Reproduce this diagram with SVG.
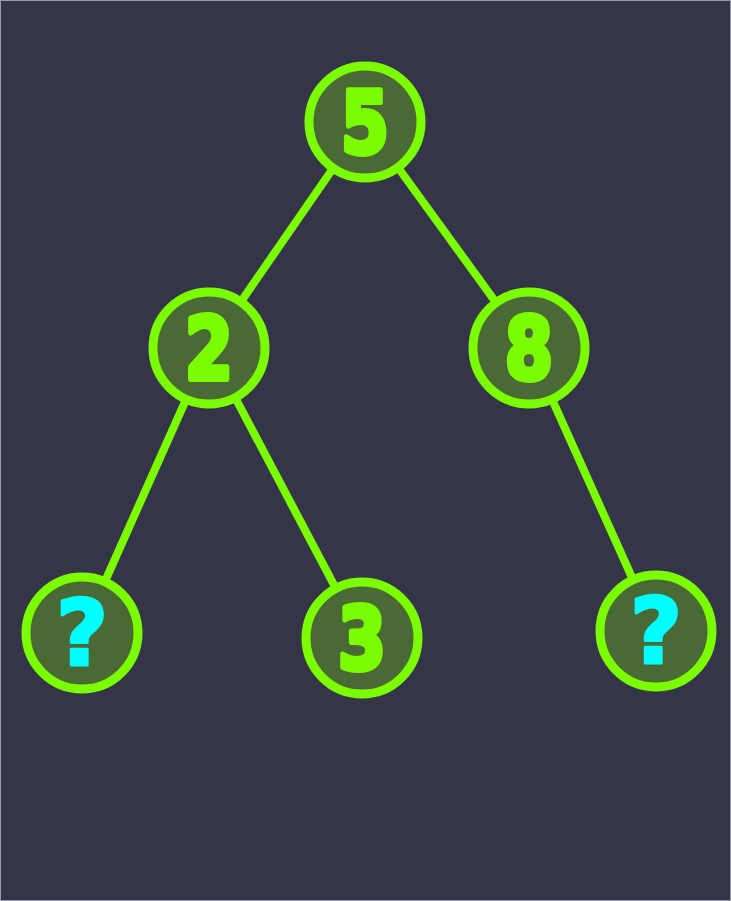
<svg xmlns="http://www.w3.org/2000/svg" width="731" height="901" viewBox="0 0 731 901">
<style>
.bg{fill:#343548;stroke:#9a9aa8;stroke-width:1}
.node circle{fill:#4a6a35;stroke:#7cfc00;stroke-width:9}
.node text{font-family:"DejaVu Sans","Liberation Sans",sans-serif;font-weight:bold;font-size:86px;text-anchor:middle;fill:#7cfc00;stroke:#7cfc00;stroke-width:6;stroke-linejoin:round}
.node text.q{fill:#00ffff;stroke:#00ffff;stroke-width:3;font-size:90px}
.edges line{stroke:#7cfc00;stroke-width:8;stroke-linecap:butt}
</style>
<rect class="bg" x="0.5" y="0.5" width="730" height="900"/>
<g class="edges">
<line x1="365" y1="122" x2="209" y2="348"/>
<line x1="365" y1="122" x2="529" y2="348"/>
<line x1="209" y1="348" x2="82" y2="633"/>
<line x1="209" y1="348" x2="362" y2="638"/>
<line x1="529" y1="348" x2="656" y2="631"/>
</g>
<g id="n5" class="node"><circle cx="365" cy="122" r="56"/><text transform="translate(365,153) scale(0.8,1)">5</text></g>
<g id="n2" class="node"><circle cx="209" cy="348" r="56"/><text transform="translate(209,379) scale(0.8,1)">2</text></g>
<g id="n8" class="node"><circle cx="529" cy="348" r="56"/><text transform="translate(529,379) scale(0.8,1)">8</text></g>
<g id="nq1" class="node"><circle cx="82" cy="633" r="56"/><text class="q" transform="translate(82,665) scale(1,1)">?</text></g>
<g id="n3" class="node"><circle cx="362" cy="638" r="56"/><text transform="translate(362,669) scale(0.8,1)">3</text></g>
<g id="nq2" class="node"><circle cx="656" cy="631" r="56"/><text class="q" transform="translate(656,663) scale(1,1)">?</text></g>
</svg>
